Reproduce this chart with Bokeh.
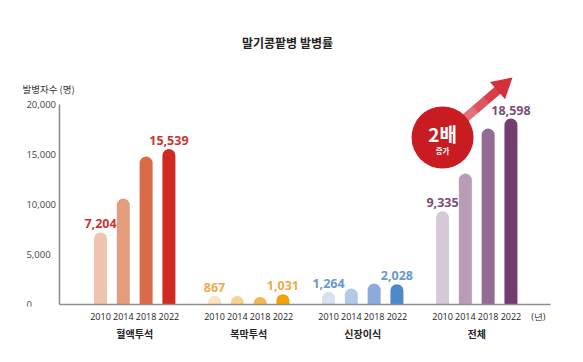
from bokeh.plotting import figure
from bokeh.models import Range1d, LinearAxis, FixedTicker, ColumnDataSource, Grid
from bokeh.core.properties import value
from bokeh.embed import file_html
from bokeh.resources import INLINE

# ---------------- data ----------------
title_text = "말기콩팥병 발병률"
y_title = "발병자수 (명)"
year_unit = "(년)"
groups = ["혈액투석", "복막투석", "신장이식", "전체"]
years = ["2010", "2014", "2018", "2022"]
hemodialysis = [7204, 10600, 14800, 15539]
peritoneal = [867, 850, 760, 1031]
transplant = [1264, 1600, 2100, 2028]
total = [9335, 13100, 17600, 18598]
series = [hemodialysis, peritoneal, transplant, total]
y_ticks = [0, 5000, 10000, 15000, 20000]
y_tick_labels = ["0", "5,000", "10,000", "15,000", "20,000"]
badge_big = "2배"
badge_small = "증가"

bar_colors = [
    ["#EFC5B0", "#E49E7E", "#DA6A48", "#CF2A20"],
    ["#FBE4BC", "#F8D292", "#F4B852", "#F3A204"],
    ["#D6E1F1", "#B3C9E8", "#8AABDB", "#4D89CA"],
    ["#D8C9D8", "#B99CB8", "#966B93", "#733D6F"],
]
label_colors = ["#C9362F", "#EBAB4C", "#6A98D0", "#7B5078"]

GROUP_STEP = 5
KR = "Noto Sans CJK KR"
NUM = "Open Sans"

# ---------------- derived positions ----------------
xs, tops, cols, lab_txt, lab_col = [], [], [], [], []
for g, vals in enumerate(series):
    for j, v in enumerate(vals):
        xs.append(g * GROUP_STEP + j)
        tops.append(v)
        cols.append(bar_colors[g][j])
        lab_txt.append(f"{v:,}" if j in (0, len(vals) - 1) else "")
        lab_col.append(label_colors[g])

bars = ColumnDataSource(dict(x=xs, top=tops, color=cols, label=lab_txt, lcolor=lab_col))

p = figure(
    frame_width=559, frame_height=298,
    x_range=Range1d(-4.035, 20.48), y_range=Range1d(-200, 29600),
    output_backend="svg", toolbar_location=None,
    x_axis_location=None, y_axis_location=None,
    min_border=0, min_border_left=8, min_border_right=0, min_border_top=8,
    min_border_bottom=4,
)
p.outline_line_color = None
p.background_fill_color = "white"
p.center = [r for r in p.center if not isinstance(r, Grid)]

# bars with rounded tops
p.vbar(x="x", top="top", bottom=0, width=0.57, source=bars,
       fill_color="color", line_color=None,
       border_radius=(7, 7, 0, 0))

# value labels
p.text(x="x", y="top", text="label", source=bars, text_color="lcolor",
       text_align="center", text_baseline="bottom", y_offset=-4,
       text_font=value(NUM), text_font_size="12.5px", text_font_style="bold")

# axes lines
axis_x = -1.8
last_x = (len(groups) - 1) * GROUP_STEP + len(years) - 1
p.segment(x0=[axis_x], y0=[0], x1=[axis_x], y1=[max(y_ticks)],
          line_color="#8f8f8f", line_width=1.6)
p.segment(x0=[axis_x], y0=[0], x1=[last_x + 1.74], y1=[0],
          line_color="#8f8f8f", line_width=1.6)

# y tick labels (left aligned)
p.text(x=[-3.25] * len(y_ticks), y=y_ticks, text=y_tick_labels,
       text_align="left", text_baseline="middle", text_color="#444444",
       text_font=value(NUM), text_font_size="9.5px")

# y title and chart title
p.text(x=[-3.42], y=[21600], text=[y_title], text_align="left",
       text_baseline="middle", text_color="#333333",
       text_font=value(KR), text_font_size="9.5px")
p.text(x=[8.2], y=[26200], text=[title_text], text_align="center",
       text_baseline="middle", text_color="#222222",
       text_font=value(KR), text_font_size="12px", text_font_style="bold")

# arrow (decoration)
ax0, ay0 = 15.0, 16700
ax1, ay1 = 17.41, 21400
shaft_cols = ["#EDA8AC", "#E88D94", "#E2717A", "#DC5660", "#D63E48"]
n = len(shaft_cols)
p.segment(x0=[ax0 + (ax1 - ax0) * k / n for k in range(n)],
          y0=[ay0 + (ay1 - ay0) * k / n for k in range(n)],
          x1=[ax0 + (ax1 - ax0) * (k + 1.05) / n for k in range(n)],
          y1=[ay0 + (ay1 - ay0) * (k + 1.05) / n for k in range(n)],
          line_color=shaft_cols, line_width=9)
p.scatter(x=[17.63], y=[21830], marker="triangle", size=23, angle=-0.855,
          fill_color="#D3303A", line_color=None)

# badge
p.scatter(x=[15.0], y=[16700], size=62, marker="circle",
          fill_color="#C81B22", line_color=None)
p.text(x=[15.0], y=[17100], text=[badge_big], text_align="center",
       text_baseline="middle", text_color="white",
       text_font=value(KR), text_font_size="19px", text_font_style="bold")
p.text(x=[15.0], y=[15400], text=[badge_small], text_align="center",
       text_baseline="middle", text_color="white",
       text_font=value(KR), text_font_size="7.5px", text_font_style="bold")

# year axis
unit_pos = 19.2
year_ticks = list(xs) + [unit_pos]
year_over = {x: years[i % len(years)] for i, x in enumerate(xs)}
year_over[unit_pos] = year_unit
ax_year = LinearAxis(ticker=FixedTicker(ticks=year_ticks, minor_ticks=[]),
                     major_label_overrides=year_over)
ax_year.axis_line_color = None
ax_year.major_tick_line_color = None
ax_year.minor_tick_line_color = None
ax_year.major_tick_out = 0
ax_year.major_tick_in = 0
ax_year.major_label_standoff = 3
ax_year.major_label_text_font = NUM
ax_year.major_label_text_font_size = "9px"
ax_year.major_label_text_color = "#222222"
p.add_layout(ax_year, "below")

# group axis
group_ticks = [g * GROUP_STEP + (len(years) - 1) / 2 for g in range(len(groups))]
ax_grp = LinearAxis(ticker=FixedTicker(ticks=group_ticks, minor_ticks=[]),
                    major_label_overrides={t: groups[i] for i, t in enumerate(group_ticks)})
ax_grp.axis_line_color = None
ax_grp.major_tick_line_color = None
ax_grp.minor_tick_line_color = None
ax_grp.major_tick_out = 0
ax_grp.major_tick_in = 0
ax_grp.major_label_standoff = 0
ax_grp.major_label_text_font = KR
ax_grp.major_label_text_font_size = "10px"
ax_grp.major_label_text_font_style = "bold"
ax_grp.major_label_text_color = "#222222"
p.add_layout(ax_grp, "below")

open("out.html", "w").write(file_html(p, INLINE))
